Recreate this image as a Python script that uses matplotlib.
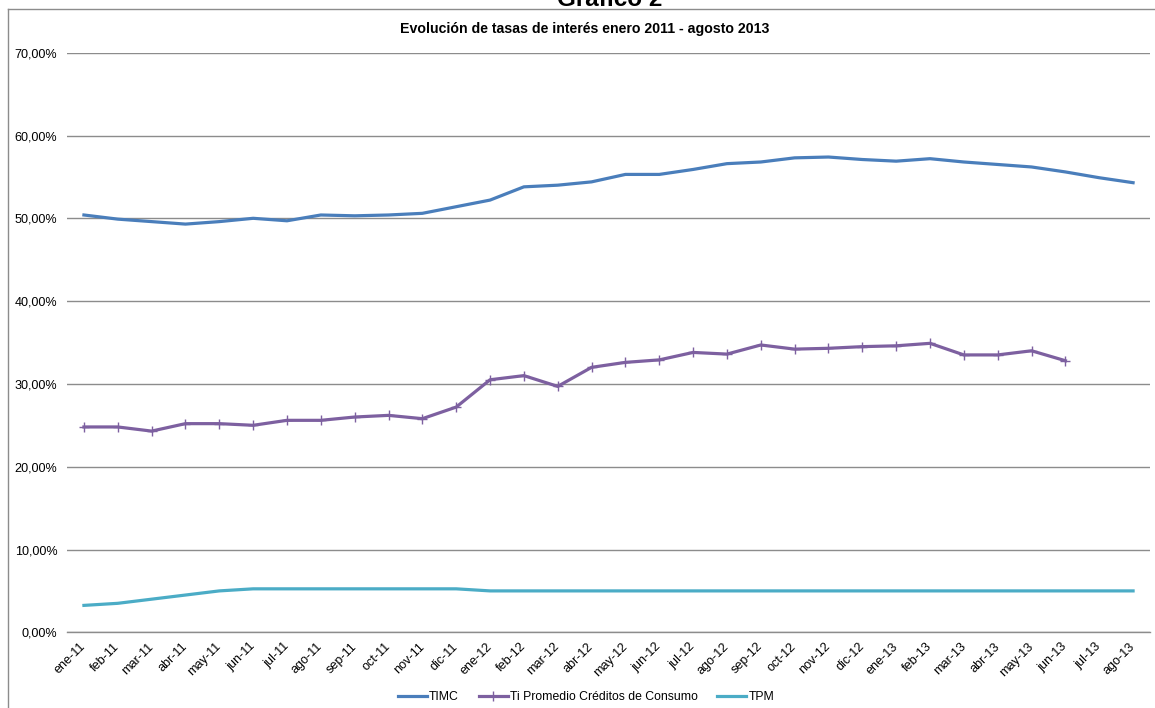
import matplotlib
matplotlib.use("Agg")
import matplotlib.pyplot as plt
from matplotlib.lines import Line2D
from matplotlib.ticker import FuncFormatter
import numpy as np

plt.rcParams['font.family'] = ['Liberation Sans', 'DejaVu Sans']

months = ["ene-11", "feb-11", "mar-11", "abr-11", "may-11", "jun-11", "jul-11", "ago-11",
          "sep-11", "oct-11", "nov-11", "dic-11", "ene-12", "feb-12", "mar-12", "abr-12",
          "may-12", "jun-12", "jul-12", "ago-12", "sep-12", "oct-12", "nov-12", "dic-12",
          "ene-13", "feb-13", "mar-13", "abr-13", "may-13", "jun-13", "jul-13", "ago-13"]

timc = [50.4, 49.9, 49.6, 49.3, 49.6, 50.0, 49.7, 50.4, 50.3, 50.4, 50.6, 51.4,
        52.2, 53.8, 54.0, 54.4, 55.3, 55.3, 55.9, 56.6, 56.8, 57.3, 57.4, 57.1,
        56.9, 57.2, 56.8, 56.5, 56.2, 55.6, 54.9, 54.3]

ti_promedio = [24.8, 24.8, 24.3, 25.2, 25.2, 25.0, 25.6, 25.6, 26.0, 26.2, 25.8, 27.2,
               30.5, 31.0, 29.7, 32.0, 32.6, 32.9, 33.8, 33.6, 34.7, 34.2, 34.3, 34.5,
               34.6, 34.9, 33.5, 33.5, 34.0, 32.8, None, None]

tpm = [3.25, 3.5, 4.0, 4.5, 5.0, 5.25, 5.25, 5.25, 5.25, 5.25, 5.25, 5.25,
       5.0, 5.0, 5.0, 5.0, 5.0, 5.0, 5.0, 5.0, 5.0, 5.0, 5.0, 5.0,
       5.0, 5.0, 5.0, 5.0, 5.0, 5.0, 5.0, 5.0]

yticks = [0, 10, 20, 30, 40, 50, 60, 70]

W, H = 1155, 708
fig = plt.figure(figsize=(W / 100, H / 100), dpi=100)
fig.patch.set_facecolor('white')

left, right = 67, 1150
top, bottom = 52.7, 632.3
ax = fig.add_axes([left / W, 1 - bottom / H, (right - left) / W, (bottom - top) / H])

x = np.arange(len(months))
to_frac = lambda v: [np.nan if a is None else a / 100 for a in v]

ax.plot(x, to_frac(timc), color='#4A7EBB', lw=2.3, label='TIMC', zorder=3)
ax.plot(x, to_frac(ti_promedio), color='#7D60A0', lw=2.3, marker='+', markersize=7,
        markeredgewidth=1.0, label='Ti Promedio Créditos de Consumo', zorder=3)
ax.plot(x, to_frac(tpm), color='#4BACC6', lw=2.3, label='TPM', zorder=3)

ax.set_xlim(-0.5, len(months) - 0.5)
ax.set_ylim(0, 0.70)
ax.set_yticks([v / 100 for v in yticks])
ax.yaxis.set_major_formatter(FuncFormatter(lambda v, p: f"{v*100:.2f}".replace('.', ',') + '%'))
ax.set_xticks(x)
ax.set_xticklabels(months, rotation=45, ha='right', rotation_mode='anchor', va='center')
ax.tick_params(axis='x', length=0, pad=9, labelsize=9.1, colors='black')
ax.tick_params(axis='y', length=0, pad=7, labelsize=9.1, colors='black')

ax.grid(axis='y', color='#8C8C8C', lw=1.0, zorder=0)
ax.set_axisbelow(True)
for s in ['top', 'right', 'left']:
    ax.spines[s].set_visible(False)
ax.spines['bottom'].set_color('#8C8C8C')
ax.spines['bottom'].set_linewidth(1.0)

# chart-area frame
fig.add_artist(Line2D([7.5 / W, 7.5 / W], [0, 1 - 9 / H], transform=fig.transFigure,
                      color='#8C8C8C', lw=1.0))
fig.add_artist(Line2D([7.5 / W, 1], [1 - 9 / H, 1 - 9 / H], transform=fig.transFigure,
                      color='#8C8C8C', lw=1.0))

fig.text(585 / W, 1 - 28.5 / H, 'Evolución de tasas de interés enero 2011 - agosto 2013',
         ha='center', va='center', fontsize=10.2, fontweight='bold')
fig.text(610 / W, 1 - 6 / H, 'Gráfico 2', ha='center', va='baseline',
         fontsize=17.5, fontweight='bold')

fig.legend(loc='center', bbox_to_anchor=(586 / W, 1 - 697 / H), ncol=3, frameon=False,
           fontsize=8.8, handlelength=2.4, handletextpad=0.15, columnspacing=1.6,
           borderaxespad=0)

fig.savefig('out.png', dpi=100, facecolor='white')
